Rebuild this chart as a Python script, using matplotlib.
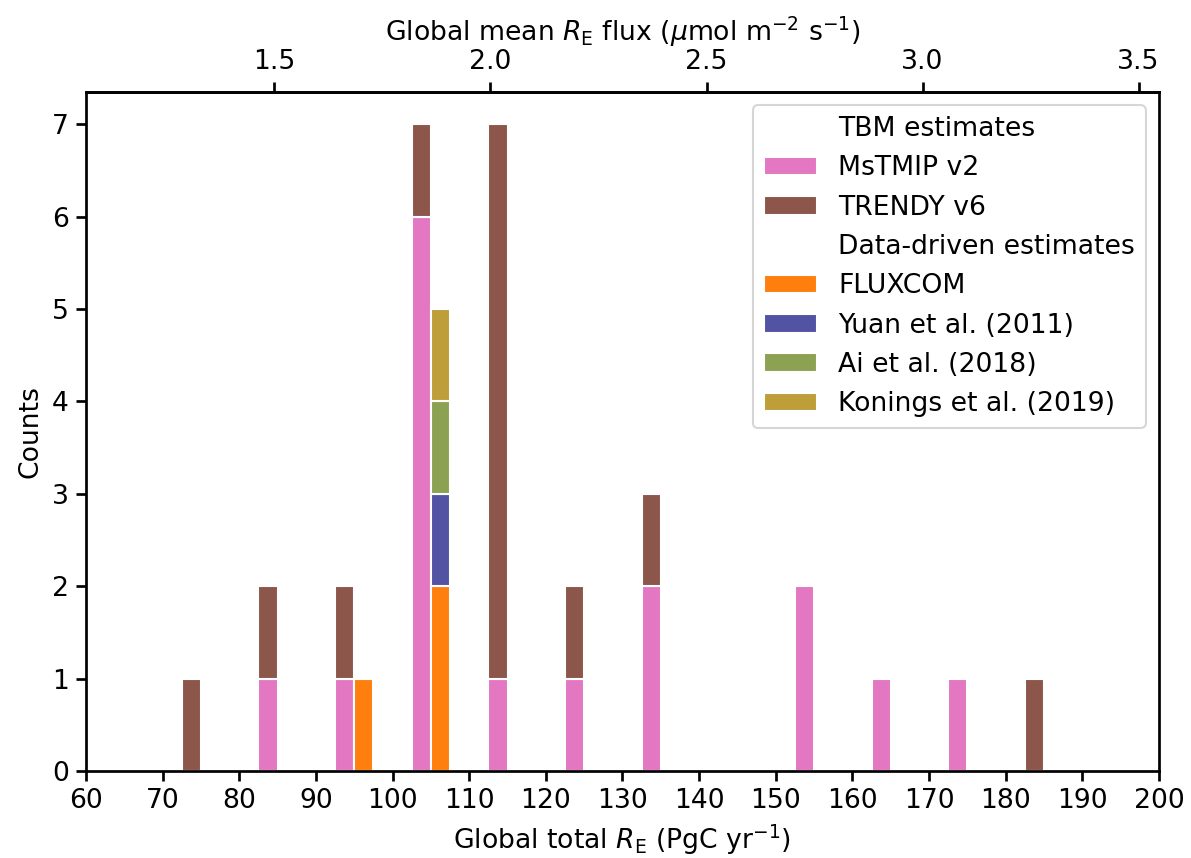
import numpy as np
import matplotlib
matplotlib.use("Agg")
import matplotlib.pyplot as plt
from matplotlib.patches import Patch

# bin left edges (PgC yr-1), width 10
bins = [70, 80, 90, 100, 110, 120, 130, 140, 150, 160, 170, 180]

# TBM estimates (stacked)
mstmip = [0, 1, 1, 6, 1, 1, 2, 0, 2, 1, 1, 0]
trendy = [1, 1, 1, 1, 6, 1, 1, 0, 0, 0, 0, 1]

# data-driven estimates (stacked)
fluxcom = [0, 0, 1, 2, 0, 0, 0, 0, 0, 0, 0, 0]
yuan = [0, 0, 0, 1, 0, 0, 0, 0, 0, 0, 0, 0]
ai = [0, 0, 0, 1, 0, 0, 0, 0, 0, 0, 0, 0]
konings = [0, 0, 0, 1, 0, 0, 0, 0, 0, 0, 0, 0]

tbm_series = [("MsTMIP v2", mstmip, "#e377c2"), ("TRENDY v6", trendy, "#8c564b")]
dd_series = [("FLUXCOM", fluxcom, "#ff7f0e"), ("Yuan et al. (2011)", yuan, "#5254a3"),
             ("Ai et al. (2018)", ai, "#8ca252"), ("Konings et al. (2019)", konings, "#bd9e39")]

binw = 10
barw = binw / 4

plt.rcParams["font.size"] = 12.8
plt.rcParams["axes.linewidth"] = 1.3
plt.rcParams["xtick.major.width"] = 1.3
plt.rcParams["ytick.major.width"] = 1.3
plt.rcParams["xtick.major.size"] = 4.7
plt.rcParams["ytick.major.size"] = 4.7

fig = plt.figure(figsize=(1191 / 150, 858 / 150), dpi=150)
ax = fig.add_axes([0.0722, 0.1014, 0.9009, 0.7914])

x = np.array(bins, dtype=float)

def stack(series, xpos):
    bottom = np.zeros(len(bins))
    for label, vals, color in series:
        v = np.array(vals, dtype=float)
        mask = v > 0
        ax.bar(xpos[mask], v[mask], width=barw, bottom=bottom[mask], align="edge",
               color=color, edgecolor="white", linewidth=1.0)
        bottom += v

stack(tbm_series, x + 2.5)
stack(dd_series, x + 5.0)

ax.set_xlim(60, 200)
ax.set_xticks(np.arange(60, 201, 10))
ax.set_ylim(0, 7.35)
ax.set_xlabel(r"Global total $R_\mathrm{E}$ (PgC yr$^{-1}$)")
ax.set_ylabel("Counts")

# conversion PgC/yr -> umol m-2 s-1 over land area
land_area = 1.49e14
k = 1e21 / 12.0 / (365 * 86400) / land_area
top = ax.secondary_xaxis("top", functions=(lambda v: v * k, lambda v: v / k))
top.set_xlabel(r"Global mean $R_\mathrm{E}$ flux ($\mu$mol m$^{-2}$ s$^{-1}$)")

blank = Patch(facecolor="none", edgecolor="none")
handles = [blank] + [Patch(facecolor=c, edgecolor="white") for _, _, c in tbm_series] \
    + [blank] + [Patch(facecolor=c, edgecolor="white") for _, _, c in dd_series]
labels = ["TBM estimates"] + [s[0] for s in tbm_series] \
    + ["Data-driven estimates"] + [s[0] for s in dd_series]
ax.legend(handles, labels, loc="upper right")

fig.savefig("out.png", dpi=150)
